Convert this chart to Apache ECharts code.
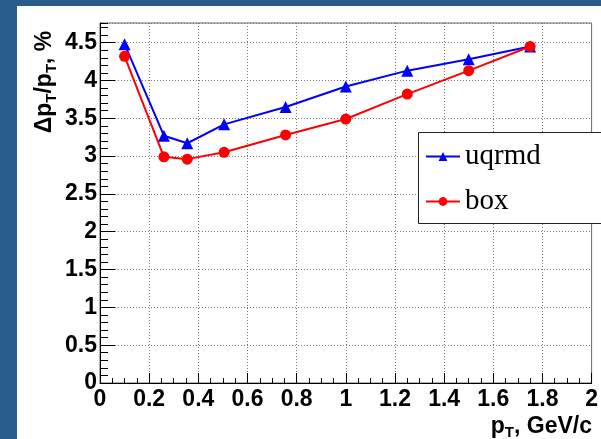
<!DOCTYPE html>
<html>
<head>
<meta charset="utf-8">
<script src="https://cdn.jsdelivr.net/npm/echarts@6/dist/echarts.min.js"></script>
<style>
  html, body { margin: 0; padding: 0; background: #285c8b; width: 601px; height: 439px; overflow: hidden; }
  #chart { position: absolute; left: 17px; top: 6px; width: 584px; height: 433px; background: #fff; }
</style>
</head>
<body>
<div id="chart"></div>
<script>
// pT points, GeV/c
const ptValues = [0.1, 0.26, 0.355, 0.505, 0.755, 1.0, 1.25, 1.5, 1.75]
// resolution, %
const uqrmdValues = [4.48, 3.27, 3.17, 3.42, 3.65, 3.92, 4.13, 4.28, 4.45]
const boxValues = [4.32, 2.99, 2.96, 3.05, 3.28, 3.49, 3.82, 4.13, 4.45]
const seriesNames = ['uqrmd', 'box']

const toPairs = (xs, ys) => xs.map((x, i) => [x, ys[i]])

const chart = echarts.init(document.getElementById('chart'))
const labelFont = { fontFamily: 'Liberation Sans', fontWeight: 'bold', fontSize: 23, color: '#000' }
const dotted = { color: '#777', type: [1, 2], width: 1 }
const titleRich = {
    n: { fontFamily: 'Liberation Sans', fontWeight: 'bold', fontSize: 23, fill: '#000' },
    s: { fontFamily: 'Liberation Sans', fontWeight: 'bold', fontSize: 15, fill: '#000', padding: [13, 0, 0, 0] }
}

const option = {
    animation: false,
    grid: {
        left: 83, top: 17, right: 9, bottom: 56,
        show: true, borderColor: '#666', borderWidth: 1, backgroundColor: 'transparent'
    },
    xAxis: {
        type: 'value', min: 0, max: 2, interval: 0.2,
        axisLine: { lineStyle: { color: '#000', width: 1 } },
        axisTick: { inside: true, length: 10, lineStyle: { color: '#000' } },
        minorTick: { show: true, splitNumber: 4, length: 5, lineStyle: { color: '#000' } },
        splitLine: { show: true, lineStyle: dotted },
        axisLabel: Object.assign({ margin: 5 }, labelFont)
    },
    yAxis: [
        {
            type: 'value', min: 0, max: 4.76, interval: 0.5, position: 'left',
            axisLine: { show: true, lineStyle: { color: '#000', width: 1 } },
            axisTick: { inside: true, length: 15, lineStyle: { color: '#000' } },
            splitLine: { show: true, lineStyle: dotted },
            axisLabel: Object.assign({
                margin: 3,
                showMaxLabel: false,
                formatter: v => (Math.abs(v * 2 - Math.round(v * 2)) < 1e-6 ? String(v) : '')
            }, labelFont)
        },
        {
            type: 'value', min: 0, max: 4.76, interval: 0.1, position: 'left', offset: 0,
            axisLine: { show: false },
            axisTick: { inside: true, length: 8, lineStyle: { color: '#000' } },
            splitLine: { show: false },
            axisLabel: { show: false }
        }
    ],
    legend: {
        orient: 'vertical',
        left: 401, top: 126,
        padding: [10, 10, 12, 7],
        itemGap: 16,
        itemWidth: 34, itemHeight: 11,
        z: 10,
        textStyle: { fontFamily: 'Liberation Serif', fontSize: 29, color: '#000' },
        data: seriesNames
    },
    graphic: [
        {
            // legend frame, running off the right edge as in the original
            type: 'rect', left: 401, top: 126, z: 5,
            shape: { width: 220, height: 91 },
            style: { fill: '#fff', stroke: '#222', lineWidth: 1 }
        },
        {
            type: 'text', x: 28, y: 76, rotation: Math.PI / 2,
            style: {
                text: '{n|Δp}{s|T}{n|/p}{s|T}{n|, %}',
                align: 'center', verticalAlign: 'middle',
                rich: titleRich
            }
        },
        {
            type: 'text', right: 9, top: 409,
            style: {
                text: '{n|p}{s|T}{n|, GeV/c}',
                rich: titleRich
            }
        }
    ],
    series: [
        {
            name: seriesNames[0], type: 'line',
            symbol: 'triangle', symbolSize: 12,
            color: '#0000ff',
            lineStyle: { width: 2, color: '#0000ff' },
            data: toPairs(ptValues, uqrmdValues)
        },
        {
            name: seriesNames[1], type: 'line',
            symbol: 'circle', symbolSize: 11,
            color: '#ff0000',
            lineStyle: { width: 2, color: '#ff0000' },
            data: toPairs(ptValues, boxValues)
        }
    ]
}
chart.setOption(option)
</script>
</body>
</html>
